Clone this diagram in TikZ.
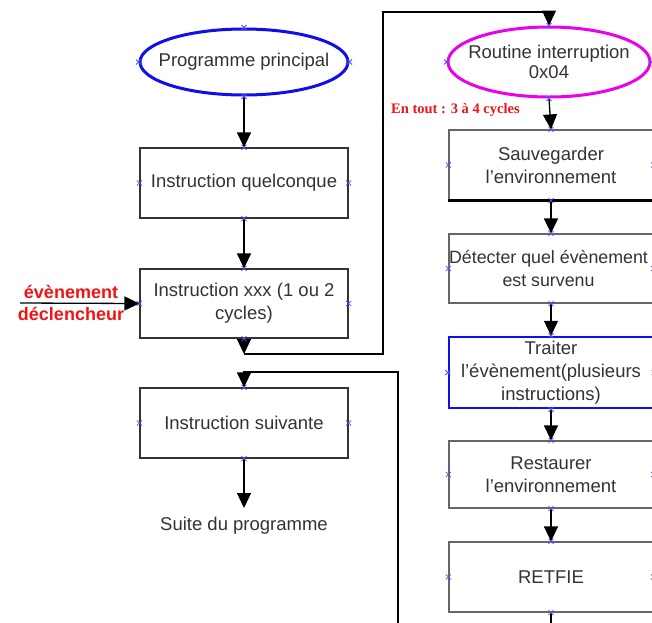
\documentclass[tikz,border=0pt]{standalone}
\usepackage{fontspec}
\setmainfont{Liberation Sans}
\newfontfamily\serifb{Liberation Serif}
\usetikzlibrary{arrows.meta,shapes.geometric}
\definecolor{mag}{RGB}{235,0,235}
\definecolor{bl}{RGB}{15,15,235}
\definecolor{xm}{RGB}{80,80,255}
\definecolor{evred}{RGB}{240,20,20}
\tikzset{
  box/.style={draw=black!80, line width=1.2pt, minimum width=208pt, minimum height=70pt, inner sep=0pt},
  rbox/.style={box, draw=black!60, minimum width=204pt},
  bt/.style={font=\fontsize{18.5}{23}\selectfont, text=black!80, align=center, inner sep=0pt},
  ell/.style={ellipse, draw, line width=3pt, inner sep=0pt},
  arr/.style={line width=1.3pt, -{Triangle[length=15pt,width=14pt]}},
  con/.style={line width=1.3pt},
  xmk/.style={draw=xm, line width=0.8pt},
  evt/.style={font=\fontsize{18}{22}\selectfont\bfseries, text=evred, inner sep=0pt},
}
\begin{document}
\begin{tikzpicture}[x=1pt,y=-1pt]
\useasboundingbox (0,0) rectangle (652,622);
\clip (0,0) rectangle (652,622);
\fill[white] (0,0) rectangle (652,622);
% left column
\node[ell, draw=bl, minimum width=208pt, minimum height=66pt] (pp) at (244,62) {};
\node[bt] (ppt) at (pp) {Programme principal};
\node[box] (iq) at (244,183) {};
\node[bt] (iqt) at (iq) {Instruction quelconque};
\node[box, minimum height=69pt] (ix) at (244,303.5) {};
\node[bt] (ixt) at (ix) {Instruction xxx (1 ou 2\\cycles)};
\node[box] (is) at (244,423) {};
\node[bt] (ist) at (is) {Instruction suivante};
\node[bt] (suite) at (244,526) {Suite du programme};
\coordinate (sa) at (244,508);
\node[evt] (ev1) at (71,292) {évènement};
\node[evt] (ev2) at (71,314) {déclencheur};
\coordinate (evs) at (20,303);
% right column
\node[ell, draw=mag, minimum width=202pt, minimum height=70pt] (ri) at (549,62) {};
\node[bt, font=\fontsize{18.5}{20}\selectfont] (rit) at (ri) {Routine interruption\\0x04};
\node[font=\fontsize{14.5}{16}\selectfont\serifb\bfseries, text=evred, anchor=west, inner sep=0pt] (tout) at (391,110) {En tout : 3 à 4 cycles};
\node[rbox] (sv) at (551,165) {};
\node[bt] (svt) at (551,165) {Sauvegarder\\l'environnement};
\node[rbox, minimum height=69pt] (dt) at (551,268.5) {};
\node[bt, font=\fontsize{17.8}{23}\selectfont] (dtt) at (548.5,268.5) {Détecter quel évènement\\est survenu};
\node[rbox, draw=bl, line width=2.5pt, minimum height=71pt] (tr) at (551,372.5) {};
\node[bt] (trt) at (551,372.5) {Traiter\\l'évènement(plusieurs\\instructions)};
\node[rbox, minimum height=67pt] (rs) at (551,474.5) {};
\node[bt] (rst) at (551,474.5) {Restaurer\\l'environnement};
\node[rbox] (rf) at (551,577) {};
\node[bt] (rft) at (551,577) {RETFIE};
\draw[line width=2.5pt] (sv.south west) -- (sv.south east);
% connectors
\draw[arr] (pp.south) -- (iq.north);
\draw[arr] (iq.south) -- (ix.north);
\draw[arr] (is.south) -- (sa);
\draw[arr] (evs) -- (ix.west);
\coordinate (c1) at (244,354);
\coordinate (c2) at (383,354);
\coordinate (c3) at (383,12);
\coordinate (c4) at (549,12);
\draw[arr] (ix.south) -- (c1);
\draw[arr] (c1) -- (c2) -- (c3) -- (c4) -- (ri.north);
\coordinate (b1) at (398,625);
\coordinate (b2) at (398,372);
\coordinate (b3) at (244,372);
\draw[arr] (b1) -- (b2) -- (b3) -- (is.north);
\draw[arr] (ri.south) -- (sv.north);
\draw[arr] (sv.south) -- (dt.north);
\draw[arr] (dt.south) -- (tr.north);
\draw[arr] (tr.south) -- (rs.north);
\draw[arr] (rs.south) -- (rf.north);
\coordinate (b4) at (551,625);
\draw[con] (rf.south) -- (b4);
% connection point marks
\foreach \n in {pp,iq,ix,is,ri,sv,dt,tr,rs,rf}
  \foreach \a in {north,south,east,west}
    \draw[xmk] ([shift={(-2.5,-2.5)}]\n.\a) -- ([shift={(2.5,2.5)}]\n.\a)
               ([shift={(-2.5,2.5)}]\n.\a) -- ([shift={(2.5,-2.5)}]\n.\a);
\end{tikzpicture}
\end{document}
